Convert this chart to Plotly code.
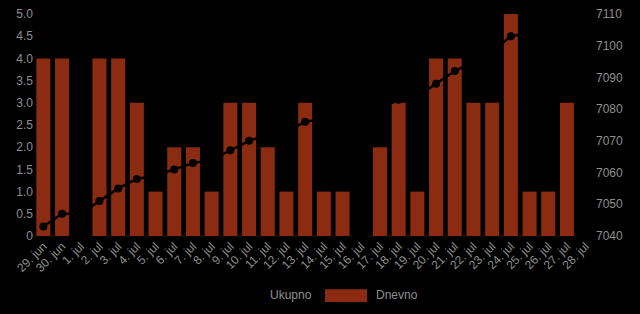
import plotly.graph_objects as go

categories = ["29. jun", "30. jun"] + [f"{d}. jul" for d in range(1, 29)]
dnevno = [4, 4, 0, 4, 4, 3, 1, 2, 2, 1, 3, 3, 2, 1, 3, 1, 1, 0, 2, 3, 1, 4, 4, 3, 3, 5, 1, 1, 3, 0]
ukupno = [7043, 7047, 7047, 7051, 7055, 7058, 7059, 7061, 7063, 7064, 7067, 7070, 7072, 7073,
          7076, 7077, 7078, 7078, 7080, 7083, 7084, 7088, 7092, 7095, 7098, 7103, 7104, 7105,
          7108, 7108]
left_ticks = [0, 0.5, 1, 1.5, 2, 2.5, 3, 3.5, 4, 4.5, 5]
left_ticktext = ["0", "0.5", "1.0", "1.5", "2.0", "2.5", "3.0", "3.5", "4.0", "4.5", "5.0"]
right_ticks = [7040, 7050, 7060, 7070, 7080, 7090, 7100, 7110]

BAR = "#8B2B11"
TXT = "#8e8e8e"
FONT = "Liberation Sans, Arial, sans-serif"

fig = go.Figure()
fig.add_trace(go.Bar(x=categories, y=dnevno, name="Dnevno", marker=dict(color=BAR, line=dict(width=0)),
                     yaxis="y", showlegend=False))
fig.add_trace(go.Scatter(x=categories, y=ukupno, name="Ukupno", mode="lines+markers",
                         line=dict(color="#000000", width=2.5), marker=dict(color="#000000", size=8),
                         yaxis="y2", showlegend=False))

fig.update_layout(
    width=640, height=314,
    paper_bgcolor="#000000", plot_bgcolor="#000000",
    margin=dict(l=34, r=45, t=7, b=78),
    bargap=0.25,
    font=dict(family=FONT, size=12, color=TXT),
    xaxis=dict(type="category", tickangle=-45, showgrid=False, zeroline=False, showline=False,
               ticks="", tickfont=dict(size=12, color=TXT), range=[-0.5, 29.5]),
    yaxis=dict(range=[0, 5], tickvals=left_ticks, ticktext=left_ticktext, showgrid=False,
               zeroline=False, showline=False, ticks="", tickfont=dict(size=12, color=TXT)),
    yaxis2=dict(range=[7040, 7110], tickvals=right_ticks, overlaying="y", side="right",
                showgrid=False, zeroline=False, showline=False, ticks="",
                tickfont=dict(size=12, color=TXT)),
    showlegend=False,
)

# manual legend
fig.add_annotation(xref="paper", yref="paper", x=(314 - 34) / 561, y=-(297 - 236) / 229,
                   text="Ukupno", showarrow=False, xanchor="right", yanchor="middle",
                   font=dict(size=12, color=TXT, family=FONT))
fig.add_shape(type="rect", xref="paper", yref="paper",
              x0=(325 - 34) / 561, x1=(367 - 34) / 561,
              y0=-(304 - 236) / 229, y1=-(291 - 236) / 229,
              fillcolor=BAR, line=dict(width=0))
fig.add_annotation(xref="paper", yref="paper", x=(374 - 34) / 561, y=-(297 - 236) / 229,
                   text="Dnevno", showarrow=False, xanchor="left", yanchor="middle",
                   font=dict(size=12, color=TXT, family=FONT))

fig.write_html("out.html")
